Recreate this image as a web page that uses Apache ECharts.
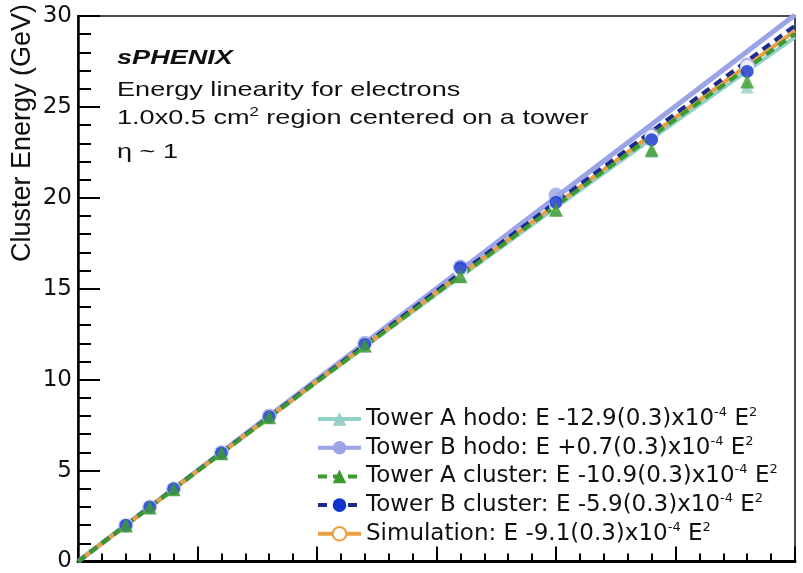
<!DOCTYPE html>
<html>
<head>
<meta charset="utf-8">
<script src="https://cdn.jsdelivr.net/npm/echarts@6/dist/echarts.min.js"></script>
<style>
html,body{margin:0;padding:0;background:#fff;}
#chart{width:803px;height:573px;}
</style>
</head>
<body>
<div id="chart"></div>
<script>
// ---- data ----
var beamEnergy = [2, 3, 4, 6, 8, 12, 16, 20, 24, 28];
var towerAHodo    = [1.98, 2.97, 3.96, 5.94, 7.92, 11.85, 15.65, 19.35, 22.55, 26.1];
var towerBHodo    = [2.0, 3.0, 4.0, 6.0, 8.0, 12.0, 16.2, 20.15, 23.45, 27.3];
var towerACluster = [1.98, 2.97, 3.97, 5.95, 7.93, 11.88, 15.7, 19.35, 22.65, 26.4];
var towerBCluster = [2.0, 3.0, 4.0, 5.98, 7.97, 11.95, 16.15, 19.75, 23.2, 26.95];
var simulation    = [2.02, 3.02, 4.02, 6.0, 7.97, 11.93, 15.95, 19.6, 23.35, 27.2];

// fit curves, read at these energies
var fitEnergy = [0, 5, 10, 15, 20, 25, 30];
var fitTowerAHodo    = [0, 4.97, 9.87, 14.71, 19.48, 24.19, 28.84];
var fitTowerBHodo    = [0, 5.00, 10.01, 15.02, 20.03, 25.04, 30.06];
var fitTowerACluster = [0, 4.97, 9.89, 14.75, 19.56, 24.32, 29.02];
var fitTowerBCluster = [0, 4.99, 9.94, 14.87, 19.76, 24.63, 29.47];
var fitSimulation    = [0, 4.98, 9.91, 14.80, 19.64, 24.43, 29.18];

var seriesNames = ['Tower A hodo', 'Tower B hodo', 'Tower A cluster', 'Tower B cluster', 'Simulation'];
var fitCoefficients = ['-12.9', '+0.7', '-10.9', '-5.9', '-9.1'];
var fitErrors = ['0.3', '0.3', '0.3', '0.3', '0.3'];

var yTicks = [0, 5, 10, 15, 20, 25, 30];

// ---- styling ----
function pairs(xs, ys) { return xs.map(function (x, i) { return [x, ys[i]]; }); }

var styles = [
  { line: '#93d0c8', mark: '#93d0c8', symbol: 'triangle', size: 13, dash: 'solid', zl: 3, zs: 11 },
  { line: '#9aa4e6', mark: '#9aa4e6', symbol: 'circle', size: 15, dash: 'solid', zl: 2, zs: 10 },
  { line: '#3c9a2e', mark: '#3c9a2e', symbol: 'triangle', size: 14, dash: [9, 6], zl: 6, zs: 14 },
  { line: '#1b2a8f', mark: '#1133cc', symbol: 'circle', size: 13, dash: [9, 6], zl: 5, zs: 13 },
  { line: '#e8a040', mark: '#e8a040', symbol: 'emptyCircle', size: 14, dash: 'solid', zl: 4, zs: 12 }
];
var pointSets = [towerAHodo, towerBHodo, towerACluster, towerBCluster, simulation];
var fitSets = [fitTowerAHodo, fitTowerBHodo, fitTowerACluster, fitTowerBCluster, fitSimulation];

var series = [];
seriesNames.forEach(function (name, i) {
  var st = styles[i];
  series.push({
    name: name,
    type: 'line',
    data: pairs(fitEnergy, fitSets[i]),
    showSymbol: false,
    symbol: st.symbol,
    symbolSize: st.size,
    z: st.zl,
    lineStyle: { color: st.line, width: i === 1 ? 5 : 4, type: st.dash },
    itemStyle: { color: st.mark, borderColor: st.mark, borderWidth: st.symbol === 'emptyCircle' ? 2 : 0 },
    silent: true,
    animation: false
  });
});
seriesNames.forEach(function (name, i) {
  var st = styles[i];
  series.push({
    name: name,
    type: 'scatter',
    data: pairs(beamEnergy, pointSets[i]),
    symbol: st.symbol,
    symbolSize: st.size,
    z: st.zs,
    itemStyle: st.symbol === 'emptyCircle'
      ? { color: 'rgba(255,255,255,0)', borderColor: st.mark, borderWidth: 2 }
      : { color: st.mark },
    animation: false
  });
});

var legendData = seriesNames.map(function (name, i) {
  return { name: name, lineStyle: { width: 4, color: styles[i].line, type: styles[i].dash } };
});

var chart = echarts.init(document.getElementById('chart'), null, { renderer: 'canvas' });
chart.setOption({
  backgroundColor: '#fff',
  animation: false,
  grid: { left: 78, right: 8, top: 16, bottom: 5, show: true, borderColor: '#111', borderWidth: 1.5, backgroundColor: 'transparent' },
  xAxis: {
    type: 'value', min: 0, max: 30, interval: 5,
    axisLine: { onZero: false, lineStyle: { color: '#000', width: 3 } },
    axisTick: { inside: true, length: 15, lineStyle: { color: '#000', width: 2 } },
    minorTick: { show: true, splitNumber: 5, length: 8, lineStyle: { color: '#000', width: 2 } },
    axisLabel: { show: false },
    splitLine: { show: false }
  },
  yAxis: {
    type: 'value', min: yTicks[0], max: yTicks[yTicks.length - 1], interval: 5,
    axisLine: { onZero: false, lineStyle: { color: '#000', width: 2.5 } },
    axisTick: { inside: true, length: 22, lineStyle: { color: '#000', width: 2 } },
    minorTick: { show: true, splitNumber: 5, length: 13, lineStyle: { color: '#000', width: 2 } },
    axisLabel: { color: '#111', fontFamily: 'DejaVu Sans', fontSize: 23, margin: 6 },
    splitLine: { show: false }
  },
  legend: {
    orient: 'vertical',
    left: 311, top: 401,
    itemWidth: 43, itemHeight: 17, itemGap: 2.7,
    data: legendData,
    formatter: function (name) {
      var i = seriesNames.indexOf(name);
      return name + ': E ' + fitCoefficients[i] + '(' + fitErrors[i] + ')x10{sup|-4} E{sup|2}';
    },
    textStyle: {
      color: '#111', fontFamily: 'DejaVu Sans', fontSize: 23, lineHeight: 26,
      rich: { sup: { fontFamily: 'DejaVu Sans', fontSize: 13, lineHeight: 13, verticalAlign: 'top', color: '#111' } }
    }
  },
  graphic: [
    { type: 'text', x: 23, y: 4, rotation: Math.PI / 2, z: 50,
      style: { text: 'Cluster Energy (GeV)', fontFamily: 'Liberation Sans', fontSize: 27, fill: '#111', align: 'right', verticalAlign: 'middle' } },
    { type: 'text', x: 117, y: 58, scaleX: 1.29, z: 50,
      style: { text: 'sPHENIX', fontFamily: 'Liberation Sans', fontSize: 21, fontStyle: 'italic', fontWeight: 'bold', fill: '#111', align: 'left', verticalAlign: 'middle' } },
    { type: 'text', x: 117, y: 90, scaleX: 1.29, z: 50,
      style: { text: 'Energy linearity for electrons', fontFamily: 'Liberation Sans', fontSize: 21, fill: '#111', align: 'left', verticalAlign: 'middle' } },
    { type: 'text', x: 117, y: 118, scaleX: 1.29, z: 50,
      style: { text: '1.0x0.5 cm{sup|2} region centered on a tower', fontFamily: 'Liberation Sans', fontSize: 21, fill: '#111', align: 'left', verticalAlign: 'middle',
        lineHeight: 24,
        rich: { sup: { fontSize: 13, fontFamily: 'Liberation Sans', lineHeight: 13, verticalAlign: 'top', fill: '#111' } } } },
    { type: 'text', x: 117, y: 152, scaleX: 1.29, z: 50,
      style: { text: 'η ~ 1', fontFamily: 'Liberation Sans', fontSize: 21, fill: '#111', align: 'left', verticalAlign: 'middle' } }
  ],
  series: series
});
</script>
</body>
</html>
